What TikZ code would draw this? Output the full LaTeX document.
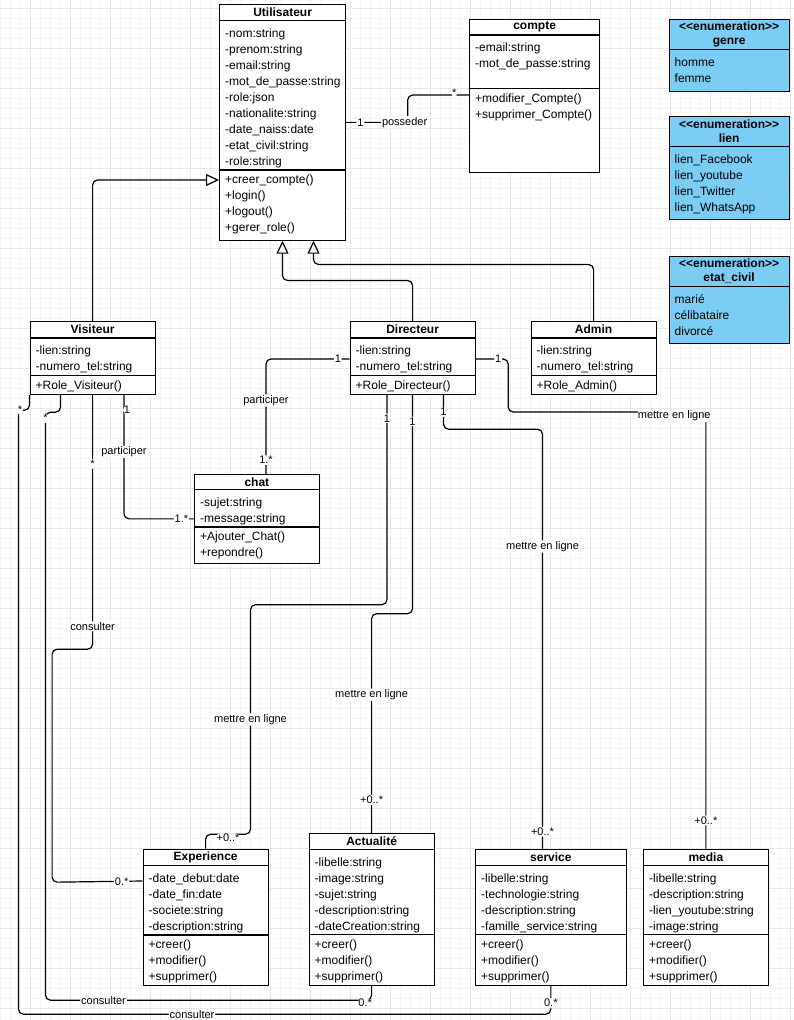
\documentclass[tikz,border=0pt]{standalone}
\usepackage{fontspec}
\setmainfont{Liberation Sans}
\usetikzlibrary{arrows.meta}
\definecolor{enumblue}{HTML}{7BCDF3}
\definecolor{gridmajor}{HTML}{E8E8E8}
\definecolor{gridminor}{HTML}{F4F4F4}

% class box: name, north west, width, header h, attribute h, method h, title, attributes, methods
\newcommand{\umlclass}[9]{%
  \node[clsbox, minimum width=#3, minimum height=#4+#5+#6, anchor=north west] (#1) at (#2) {};
  \draw[clsline] ([yshift=-#4]#1.north west) -- ([yshift=-#4]#1.north east);
  \draw[clsline] ([yshift=-#4-#5]#1.north west) -- ([yshift=-#4-#5]#1.north east);
  \node[clsttl] at ([yshift=-#4/2]#1.north) {#7};
  \node[clsitm] at ([yshift=-#4]#1.north west) {#8};
  \node[clsitm, yshift=3pt] at ([yshift=-#4-#5]#1.north west) {#9};
}
% enumeration: name, north west, header h, body h, title, items
\newcommand{\umlenum}[6]{%
  \node[clsbox, fill=enumblue, minimum width=120, minimum height=#3+#4, anchor=north west] (#1) at (#2) {};
  \draw[clsline] ([yshift=-#3]#1.north west) -- ([yshift=-#3]#1.north east);
  \node[enmttl] at ([yshift=-#3/2]#1.north) {<\kern0pt<enumeration>\kern0pt>\\#5};
  \node[clsitm] at ([yshift=-#3]#1.north west) {#6};
}

\begin{document}
\begin{tikzpicture}[x=1pt, y=-1pt,
  clsbox/.style={rectangle, draw, fill=white, line width=1.2pt, inner sep=0pt},
  clsline/.style={line width=1.2pt},
  clsttl/.style={font=\fontsize{12}{14}\selectfont\bfseries, inner sep=0pt},
  enmttl/.style={font=\fontsize{12}{14}\selectfont\bfseries, inner sep=0pt, align=center},
  clsitm/.style={font=\fontsize{12}{16}\selectfont, align=left, anchor=north west, inner xsep=6pt, inner ysep=8pt},
  assoc/.style={line width=1.2pt, rounded corners=5pt},
  gen/.style={assoc, -{Triangle[length=13pt, width=12pt, fill=white]}},
  lbl/.style={font=\fontsize{11}{13}\selectfont, fill=white, inner sep=1pt}
]
  \useasboundingbox (0,0) rectangle (794,1020);
  \clip (0,0) rectangle (794,1020);
  \fill[white] (0,0) rectangle (794,1020);
  \draw[gridminor, line width=0.6pt, step=10pt, shift={(0pt,-8pt)}] (-10,-10) grid (800,1030);
  \draw[gridmajor, line width=0.6pt, step=40pt, shift={(30pt,-8pt)}] (-40,-40) grid (800,1040);

  % classes
  \umlclass{util}{219,4}{126}{16.5}{149.5}{69.5}{Utilisateur}
    {-nom:string\\-prenom:string\\-email:string\\-mot\_de\_passe:string\\-role:json\\-nationalite:string\\-date\_naiss:date\\-etat\_civil:string\\-role:string}
    {+creer\_compte()\\+login()\\+logout()\\+gerer\_role()}
  \umlclass{cpt}{469,19}{130}{16}{53.5}{83}{compte}
    {-email:string\\-mot\_de\_passe:string}
    {+modifier\_Compte()\\+supprimer\_Compte()}
  \umlclass{vis}{29.5,321}{125}{17}{37.5}{18.5}{Visiteur}
    {-lien:string\\-numero\_tel:string}{+Role\_Visiteur()}
  \umlclass{dir}{349.5,321}{125}{17}{37.5}{18.5}{Directeur}
    {-lien:string\\-numero\_tel:string}{+Role\_Directeur()}
  \umlclass{adm}{530.5,321}{125}{17}{37.5}{18.5}{Admin}
    {-lien:string\\-numero\_tel:string}{+Role\_Admin()}
  \umlclass{chat}{194,474}{124.5}{15.5}{37.5}{35.5}{chat}
    {-sujet:string\\-message:string}{+Ajouter\_Chat()\\+repondre()}
  \umlclass{exp}{142.5,848.5}{125}{17}{69.5}{50}{Experience}
    {-date\_debut:date\\-date\_fin:date\\-societe:string\\-description:string}
    {+creer()\\+modifier()\\+supprimer()}
  \umlclass{act}{308.5,833}{125}{16.5}{85}{50.5}{Actualité}
    {-libelle:string\\-image:string\\-sujet:string\\-description:string\\-dateCreation:string}
    {+creer()\\+modifier()\\+supprimer()}
  \umlclass{srv}{475,848.5}{150.5}{17}{69}{50.5}{service}
    {-libelle:string\\-technologie:string\\-description:string\\-famille\_service:string}
    {+creer()\\+modifier()\\+supprimer()}
  \umlclass{med}{643,848.5}{124.5}{17}{69}{50.5}{media}
    {-libelle:string\\-description:string\\-lien\_youtube:string\\-image:string}
    {+creer()\\+modifier()\\+supprimer()}

  % enumerations
  \umlenum{genre}{668.5,18.5}{31}{41.5}{genre}{homme\\femme}
  \umlenum{lien}{668.5,116}{30.5}{72}{lien}{lien\_Facebook\\lien\_youtube\\lien\_Twitter\\lien\_WhatsApp}
  \umlenum{etat}{668.5,256}{30.5}{56}{etat\_civil}{marié\\célibataire\\divorcé}

  % inheritance
  \draw[gen] (vis.north) |- ([yshift=-176pt]util.north west);
  \draw[gen] (dir.north) -- ++(0,-40.5) -| ([xshift=63.5pt]util.south west);
  \draw[gen] (adm.north) -- ++(0,-56.5) -| ([xshift=94.5pt]util.south west);

  % associations
  \draw[assoc] (util.east) -- node[lbl, pos=0.23]{1} node[lbl, pos=0.95]{posseder} ++(61.5,0)
    |- node[lbl, pos=0.88, yshift=2pt]{*} ([yshift=-76pt]cpt.north west);
  \draw[assoc] ([xshift=94.5pt]vis.south west) |- node[lbl, pos=0.06, xshift=3pt]{1}
    node[lbl, pos=0.23]{participer} node[lbl, pos=0.91]{1.*} (chat.west);
  \draw[assoc] ([yshift=-38pt]dir.north west) -| node[lbl, pos=0.07]{1}
    node[lbl, pos=0.68]{participer} node[lbl, pos=0.94]{1.*} ([xshift=72pt]chat.north west);
  \draw[assoc] ([yshift=-38pt]dir.north east) -- node[lbl, pos=0.69]{1} ++(32.5,0) -- ++(0,53)
    -| node[lbl, pos=0.42, yshift=-4pt]{mettre en ligne} node[lbl, pos=0.968]{+0..*} (med.north);
  \draw[assoc] ([xshift=94pt]dir.south west) -- node[lbl, pos=0.5]{1} ++(0,34)
    -| node[lbl, pos=0.64]{mettre en ligne} node[lbl, pos=0.98]{+0..*} ([xshift=67.5pt]srv.north west);
  \draw[assoc] ([xshift=63pt]dir.south west) -- node[lbl, pos=0.12]{1} ++(0,218.5)
    -| node[lbl, pos=0.685]{mettre en ligne} node[lbl, pos=0.925]{+0..*} (act.north);
  \draw[assoc] ([xshift=37.5pt]dir.south west) -- node[lbl, pos=0.11]{1} ++(0,209.5)
    -| node[lbl, pos=0.75]{mettre en ligne} ++(-136.5,229.5)
    -| node[lbl, pos=0.25, yshift=-4pt]{+0..*} (exp.north);
  \draw[assoc] (vis.south west) -- ++(0,15) -| node[lbl, pos=0.43]{*} ++(-11,604)
    -| node[lbl, pos=0.163]{consulter} node[lbl, pos=0.7]{0.*} (srv.south);
  \draw[assoc] ([xshift=31pt]vis.south west) -- ++(0,17) -| node[lbl, pos=0.505]{*} ++(-15,588)
    -| node[lbl, pos=0.089]{consulter} node[lbl, pos=0.49, yshift=-3pt]{0.*} (act.south);
  \draw[assoc] (vis.south) -- node[lbl, pos=0.27]{*} node[lbl, pos=0.91]{consulter} ++(0,254)
    -| ++(-40.5,233) -- node[lbl, pos=0.77]{0.*} ([yshift=-32.5pt]exp.north west);
\end{tikzpicture}
\end{document}
